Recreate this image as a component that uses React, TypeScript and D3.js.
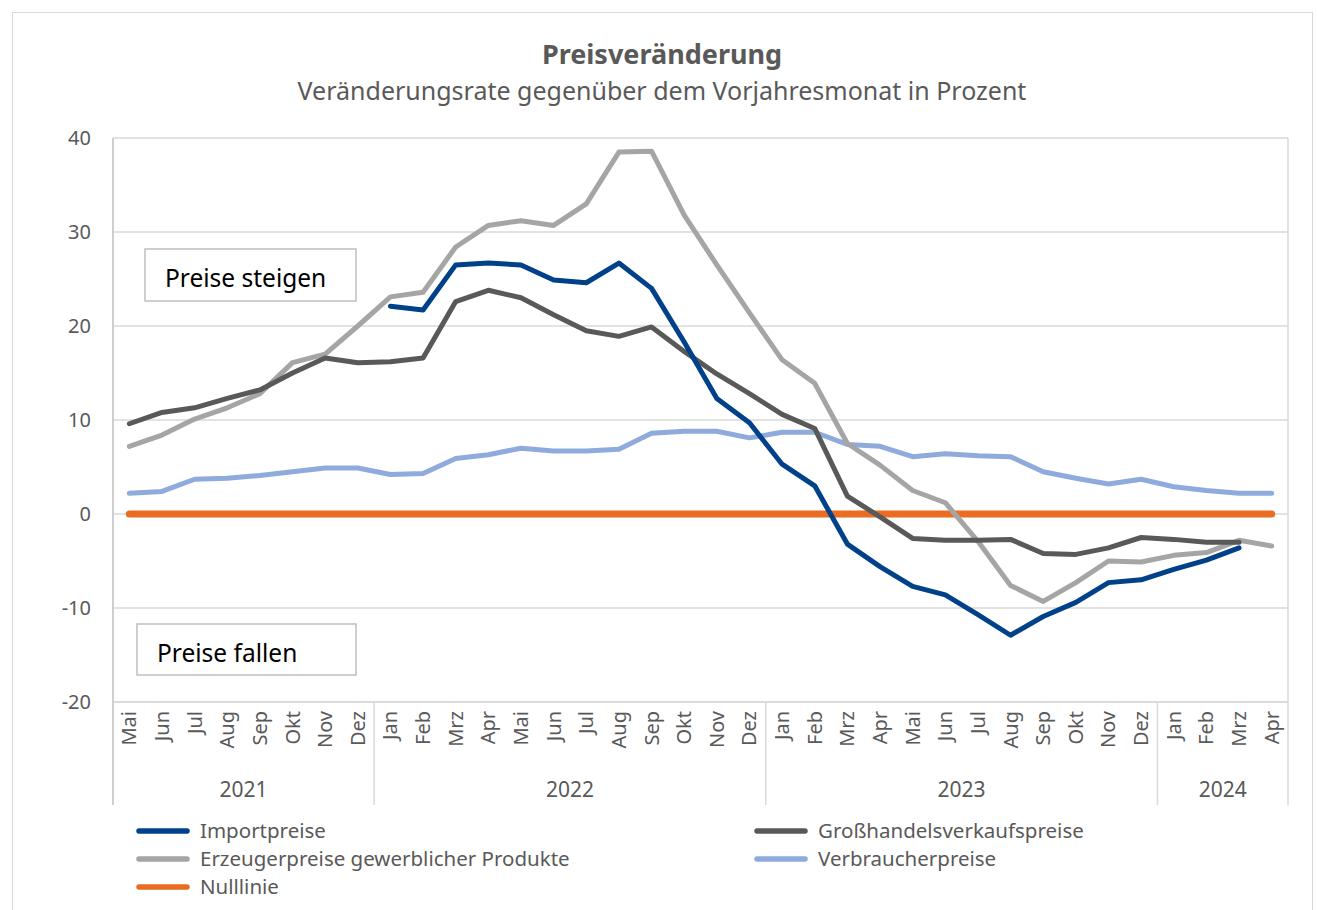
import React from "react";
import * as d3 from "d3";

const width = 1317;
const height = 910;
const margin = { left: 113, right: 29, top: 138, bottom: 208 };
const plotW = width - margin.left - margin.right;
const plotH = height - margin.top - margin.bottom;

const months = [
  "Mai", "Jun", "Jul", "Aug", "Sep", "Okt", "Nov", "Dez",
  "Jan", "Feb", "Mrz", "Apr", "Mai", "Jun", "Jul", "Aug", "Sep", "Okt", "Nov", "Dez",
  "Jan", "Feb", "Mrz", "Apr", "Mai", "Jun", "Jul", "Aug", "Sep", "Okt", "Nov", "Dez",
  "Jan", "Feb", "Mrz", "Apr",
];
const years = [
  { label: "2021", start: 0, end: 8 },
  { label: "2022", start: 8, end: 20 },
  { label: "2023", start: 20, end: 32 },
  { label: "2024", start: 32, end: 36 },
];
const yTicks = [40, 30, 20, 10, 0, -10, -20];

// null = no value for that month
const importpreise = [
  null, null, null, null, null, null, null, null,
  22.1, 21.7, 26.5, 26.7, 26.5, 24.9, 24.6, 26.7, 24.0, 18.3, 12.3, 9.7,
  5.3, 3.0, -3.2, -5.6, -7.7, -8.6, -10.7, -12.9, -10.9, -9.4, -7.3, -7.0,
  -5.9, -4.9, -3.6, null,
];
const grosshandel = [
  9.6, 10.8, 11.3, 12.3, 13.2, 15.0, 16.6, 16.1,
  16.2, 16.6, 22.6, 23.8, 23.0, 21.2, 19.5, 18.9, 19.9, 17.3, 14.9, 12.8,
  10.6, 9.1, 1.9, -0.3, -2.6, -2.8, -2.8, -2.7, -4.2, -4.3, -3.6, -2.5,
  -2.7, -3.0, -3.0, null,
];
const erzeuger = [
  7.2, 8.4, 10.1, 11.3, 12.8, 16.1, 17.0, 20.0,
  23.1, 23.6, 28.4, 30.7, 31.2, 30.7, 33.0, 38.5, 38.6, 31.8, 26.5, 21.4,
  16.4, 13.9, 7.5, 5.2, 2.5, 1.2, -2.9, -7.6, -9.3, -7.3, -5.0, -5.1,
  -4.4, -4.1, -2.8, -3.4,
];
const verbraucher = [
  2.2, 2.4, 3.7, 3.8, 4.1, 4.5, 4.9, 4.9,
  4.2, 4.3, 5.9, 6.3, 7.0, 6.7, 6.7, 6.9, 8.6, 8.8, 8.8, 8.1,
  8.7, 8.7, 7.4, 7.2, 6.1, 6.4, 6.2, 6.1, 4.5, 3.8, 3.2, 3.7,
  2.9, 2.5, 2.2, 2.2,
];
const nulllinie = months.map(() => 0);

const series = [
  { name: "Importpreise", values: importpreise, color: "#00418a", width: 5 },
  { name: "Großhandelsverkaufspreise", values: grosshandel, color: "#595959", width: 5 },
  { name: "Erzeugerpreise gewerblicher Produkte", values: erzeuger, color: "#a5a5a5", width: 5 },
  { name: "Verbraucherpreise", values: verbraucher, color: "#8faadc", width: 5 },
  { name: "Nulllinie", values: nulllinie, color: "#ea6b22", width: 7 },
];

const font = "'Noto Sans', 'Open Sans', sans-serif";
const textColor = "#595959";
const gridColor = "#d9d9d9";

const x = d3.scaleBand<number>().domain(d3.range(months.length)).range([0, plotW]);
const y = d3.scaleLinear().domain([-20, 40]).range([plotH, 0]);

const line = d3
  .line<number | null>()
  .defined((d) => d !== null)
  .x((_, i) => (x(i) as number) + x.bandwidth() / 2)
  .y((d) => y(d as number));

const App = () => {
  // draw order: zero line below, then the series
  const drawOrder = [4, 3, 2, 1, 0];
  const legendPos = [
    { x: 137, y: 831 },
    { x: 755, y: 831 },
    { x: 137, y: 859 },
    { x: 755, y: 859 },
    { x: 137, y: 887 },
  ];
  return (
    <svg
      width={width}
      height={height}
      style={{ position: "absolute", left: 0, top: 0, background: "#fff" }}
      fontFamily={font}
    >
      <rect x={12.5} y={12.5} width={1300} height={920} fill="#fff" stroke={gridColor} />
      <text x={662} y={64} textAnchor="middle" fontSize={27} fontWeight="bold" fill={textColor}>
        Preisveränderung
      </text>
      <text x={662} y={100} textAnchor="middle" fontSize={25} fill={textColor}>
        Veränderungsrate gegenüber dem Vorjahresmonat in Prozent
      </text>

      <g transform={`translate(${margin.left},${margin.top})`}>
        {yTicks.map((t) => (
          <g key={t}>
            <line x1={0} x2={plotW} y1={y(t)} y2={y(t)} stroke={gridColor} strokeWidth={1.5} />
            <text x={-22} y={y(t)} dy="0.35em" textAnchor="end" fontSize={20} fill={textColor}>
              {t}
            </text>
          </g>
        ))}
        <line x1={plotW} x2={plotW} y1={0} y2={plotH + 103} stroke={gridColor} strokeWidth={1.5} />
        <line x1={0} x2={0} y1={0} y2={plotH + 103} stroke="#bfbfbf" strokeWidth={1.5} />
        <line x1={0} x2={plotW} y1={plotH} y2={plotH} stroke={gridColor} strokeWidth={1.5} />
        {years.slice(1).map((yr) => (
          <line
            key={yr.label}
            x1={x(yr.start)}
            x2={x(yr.start)}
            y1={plotH}
            y2={plotH + 103}
            stroke={gridColor}
            strokeWidth={1.5}
          />
        ))}
        {months.map((m, i) => (
          <text
            key={i}
            transform={`translate(${(x(i) as number) + x.bandwidth() / 2},${plotH + 9}) rotate(-90)`}
            textAnchor="end"
            dy="0.35em"
            fontSize={20}
            fill={textColor}
          >
            {m}
          </text>
        ))}
        {years.map((yr) => (
          <text
            key={yr.label}
            x={((x(yr.start) as number) + (yr.end >= months.length ? plotW : (x(yr.end) as number))) / 2}
            y={plotH + 95}
            textAnchor="middle"
            fontSize={21}
            fill={textColor}
          >
            {yr.label}
          </text>
        ))}

        <rect x={32} y={111} width={211} height={52} fill="#fff" stroke="#bfbfbf" strokeWidth={1.5} />
        <text x={52} y={149} fontSize={24.5} fill="#000">Preise steigen</text>
        <rect x={24} y={486} width={219} height={51} fill="#fff" stroke="#bfbfbf" strokeWidth={1.5} />
        <text x={44} y={524} fontSize={24.5} fill="#000">Preise fallen</text>

        {drawOrder.map((si) => {
          const s = series[si];
          return (
            <path
              key={s.name}
              d={line(s.values) || ""}
              fill="none"
              stroke={s.color}
              strokeWidth={s.width}
              strokeLinejoin="round"
              strokeLinecap="round"
            />
          );
        })}
      </g>

      {series.map((s, i) => (
        <g key={s.name} transform={`translate(${legendPos[i].x},${legendPos[i].y})`}>
          <line x1={2} x2={50} y1={0} y2={0} stroke={s.color} strokeWidth={5.5} strokeLinecap="round" />
          <text x={63} y={0} dy="0.35em" fontSize={20.5} fill={textColor}>
            {s.name}
          </text>
        </g>
      ))}
    </svg>
  );
};

export default App;
